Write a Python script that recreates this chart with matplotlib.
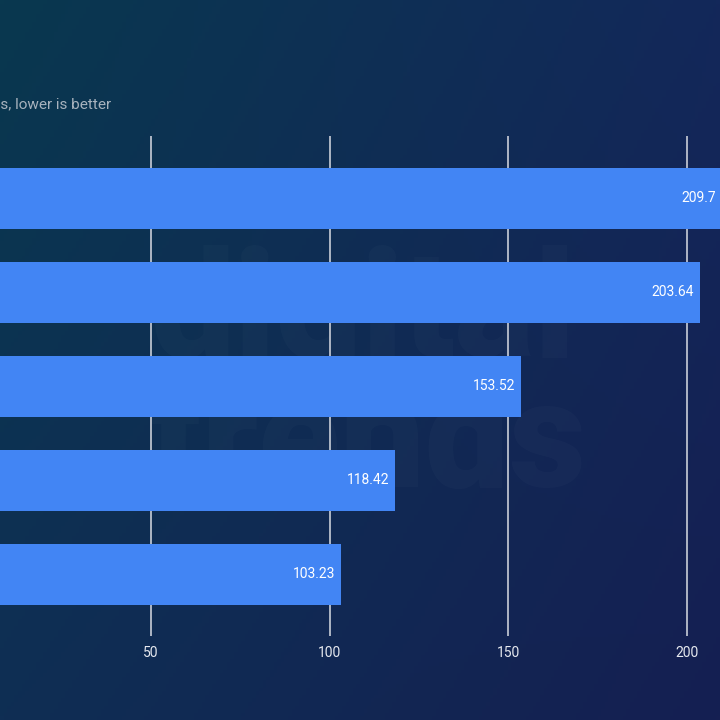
import matplotlib.pyplot as plt
import numpy as np

# data (category names are cropped off the left of the image)
values = [209.7, 203.64, 153.52, 118.42, 103.23]
value_labels = ['209.7', '203.64', '153.52', '118.42', '103.23']
x_ticks = [50, 100, 150, 200]
subtitle = 'Time in seconds, lower is better'

BAR_COLOR = '#4285f4'
GRID_COLOR = '#c9ced8'
TEXT_COLOR = '#e6e9ef'

plt.rcParams['font.family'] = ['Roboto', 'DejaVu Sans']

fig = plt.figure(figsize=(7.2, 7.2), dpi=100)

# gradient background
bg = fig.add_axes([0, 0, 1, 1], zorder=0)
tl = np.array([9, 56, 79]) / 255
tr = np.array([19, 40, 90]) / 255
bl = np.array([15, 46, 84]) / 255
br = np.array([21, 31, 82]) / 255
n = 200
u = np.linspace(0, 1, n)[None, :, None]
v = np.linspace(0, 1, n)[:, None, None]
img = (1 - v) * ((1 - u) * tl + u * tr) + v * ((1 - u) * bl + u * br)
bg.imshow(img, extent=[0, 1, 0, 1], aspect='auto', origin='upper')
bg.axis('off')

# faint watermark
for txt, base in [('digital', 357), ('trends', 487)]:
    bg.text(150 / 720, 1 - base / 720, txt, fontsize=108, fontweight='black',
            color='white', alpha=0.02, ha='left', va='baseline')

# main axes: px per unit 3.571, zero at x=-27.5 px
ax = fig.add_axes([0, 84 / 720, 1, 500 / 720], zorder=1)
ax.set_facecolor('none')
ax.set_xlim(27.5 / 3.571, (720 + 27.5) / 3.571)
ax.set_ylim(4.655, -0.665)

y = np.arange(len(values))
ax.barh(y, values, height=0.65, color=BAR_COLOR, zorder=3)

for yi, val, lab in zip(y, values, value_labels):
    ax.annotate(lab, xy=(val, yi), xytext=(-4, 0), textcoords='offset points',
                ha='right', va='center', color='white', fontsize=10, zorder=4,
                annotation_clip=False)

ax.set_xticks(x_ticks)
ax.set_xticklabels([str(t) for t in x_ticks])
ax.set_yticks([])
ax.grid(axis='x', color=GRID_COLOR, linewidth=1.2, zorder=1)
ax.tick_params(axis='x', length=0, pad=7, labelsize=10, labelcolor=TEXT_COLOR)
for s in ax.spines.values():
    s.set_visible(False)

fig.text(111 / 720, 1 - 104 / 720, subtitle, ha='right', va='center',
         fontsize=11, color='#a7b2bd', zorder=2)

fig.savefig('out.png', dpi=100)
